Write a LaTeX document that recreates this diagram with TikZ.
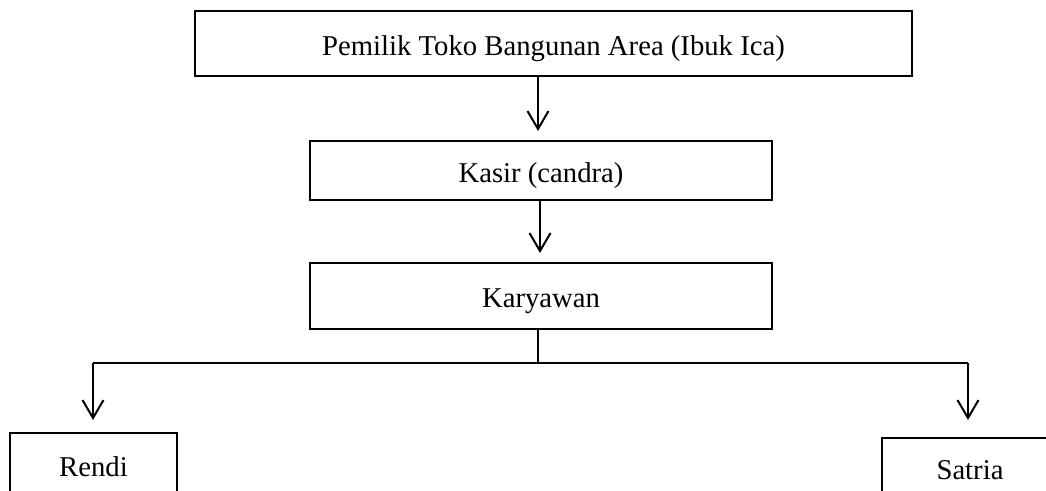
\documentclass[tikz,border=0pt]{standalone}
\usepackage{fontspec}
\setmainfont{Liberation Serif}
\usetikzlibrary{arrows.meta}
\begin{document}
\begin{tikzpicture}[x=1pt,y=1pt,
  box/.style={draw=black,line width=2pt,rectangle,inner sep=0pt,font=\fontsize{28.7}{34}\selectfont},
  lowtext/.style={text height=23.5pt,text depth=0pt},
  conn/.style={draw=black,line width=2pt},
  arr/.style={conn,-{Straight Barb[length=18pt,width=21pt,line width=2pt]}}]
\useasboundingbox (0,0) rectangle (1046,-490);
\clip (0,0) rectangle (1046,-490);
\fill[white] (0,0) rectangle (1046,-490);
\node[box,lowtext,minimum width=717pt,minimum height=65pt] (owner) at (553.5,-43.5) {Pemilik Toko Bangunan Area (Ibuk Ica)};
\node[box,lowtext,minimum width=462pt,minimum height=59pt] (kasir) at (541,-170.5) {Kasir (candra)};
\node[box,lowtext,minimum width=462pt,minimum height=66pt] (kary) at (541,-296) {Karyawan};
\node[box,minimum width=167pt,minimum height=68pt] (rendi) at (93.5,-467) {Rendi};
\node[box,minimum width=176pt,minimum height=64pt] (satria) at (970,-470) {Satria};
\coordinate (a1) at (538,0);
\coordinate (a2) at (540,0);
\coordinate (j) at (538,-363);
\coordinate (hl) at (93,-363);
\coordinate (hr) at (968,-363);
\coordinate (tl) at (93,-420);
\coordinate (tr) at (968,-420);
\draw[arr] (owner.south -| a1) -- ([yshift=9pt]kasir.north -| a1);
\draw[arr] (kasir.south -| a2) -- ([yshift=9pt]kary.north -| a2);
\draw[conn] (kary.south -| j) -- (j);
\draw[conn] (hl) -- (hr);
\draw[arr] (hl) -- (tl);
\draw[arr] (hr) -- (tr);
\end{tikzpicture}
\end{document}
